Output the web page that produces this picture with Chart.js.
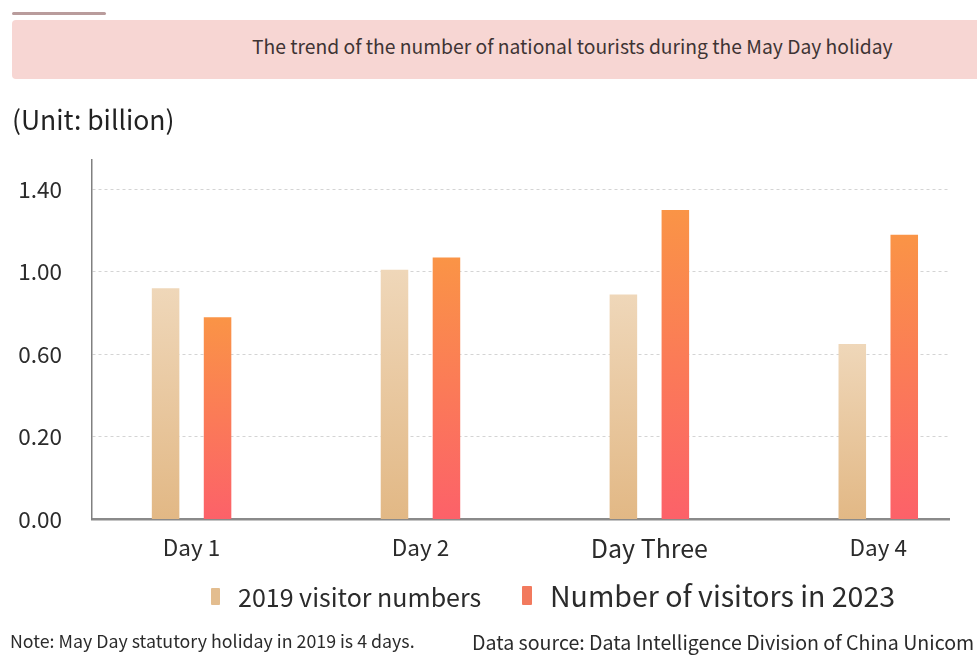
<!DOCTYPE html>
<html lang="en">
<head>
    <meta charset="UTF-8">
    <title>May Day tourists</title>
    <script src="https://cdn.jsdelivr.net/npm/chart.js@4/dist/chart.umd.min.js"></script>
    <style>
        body {
            margin: 0;
            background: #ffffff;
            font-family: 'Noto Sans CJK SC', sans-serif;
            color: #2b2b2b;
        }
        .page {
            position: relative;
            width: 977px;
            height: 662px;
            overflow: hidden;
        }
        .page canvas {
            position: absolute;
            left: 0;
            top: 0;
        }
        .abs {
            position: absolute;
            line-height: 1;
            white-space: nowrap;
        }
        .topline {
            left: 12px; top: 12px; width: 94px; height: 3px;
            background: #b99c9c; border-radius: 2px;
        }
        .banner {
            left: 12px; top: 20px; width: 975px; height: 59px;
            background: #f7d6d3; border-radius: 4px;
        }
        .title { left: 252px; top: 37px; font-size: 19.3px; color: #3e3434; }
        .unit { left: 12px; top: 106px; font-size: 26.5px; color: #222; }
        .legend-item { display: flex; align-items: center; }
        .swatch { display: inline-block; border-radius: 1px; }
        .note { top: 632px; color: #2b2b2b; }
    </style>
</head>
<body>
<div class="page">
    <canvas id="chart"></canvas>
    <div class="abs topline"></div>
    <div class="abs banner"></div>
    <div class="abs title">The trend of the number of national tourists during the May Day holiday</div>
    <div class="abs unit">(Unit: billion)</div>
    <div id="legend"></div>
    <div class="abs note" style="left: 10px; font-size: 17.8px;">Note: May Day statutory holiday in 2019 is 4 days.</div>
    <div class="abs note" style="left: 472px; font-size: 19.6px;">Data source: Data Intelligence Division of China Unicom</div>
</div>
<script>
    // data
    const days = ["Day 1", "Day 2", "Day Three", "Day 4"];
    const visitors2019 = [0.92, 1.01, 0.89, 0.65];
    const visitors2023 = [0.78, 1.07, 1.30, 1.18];
    const seriesNames = ["2019 visitor numbers", "Number of visitors in 2023"];
    const yTicks = [-0.2, 0.2, 0.6, 1.0, 1.4];

    // bar colours, top -> bottom
    const fill2019 = ["#efd7b9", "#e2b885"];
    const fill2023 = ["#fa9446", "#fc6169"];

    function barGradient(stops) {
        return (ctx) => {
            const chart = ctx.chart;
            const area = chart.chartArea;
            if (!area || !ctx.parsed) return stops[1];
            const top = chart.scales.y.getPixelForValue(ctx.parsed.y);
            const g = chart.ctx.createLinearGradient(0, top, 0, area.bottom);
            g.addColorStop(0, stops[0]);
            g.addColorStop(1, stops[1]);
            return g;
        };
    }

    const toPoints = (vals) => vals.map((v, i) => ({ x: i, y: v }));

    new Chart(document.getElementById("chart"), {
        type: "bar",
        data: {
            datasets: [
                {
                    label: seriesNames[0],
                    data: toPoints(visitors2019),
                    base: -0.2,
                    backgroundColor: barGradient(fill2019),
                    borderWidth: 0
                },
                {
                    label: seriesNames[1],
                    data: toPoints(visitors2023),
                    base: -0.2,
                    backgroundColor: barGradient(fill2023),
                    borderWidth: 0
                }
            ]
        },
        options: {
            responsive: true,
            maintainAspectRatio: false,
            animation: false,
            categoryPercentage: 0.454,
            barPercentage: 0.53,
            layout: { padding: { left: 0, right: 28, top: 160, bottom: 0 } },
            plugins: {
                legend: { display: false },
                tooltip: { enabled: false }
            },
            scales: {
                x: {
                    type: "linear",
                    offset: false,
                    min: -0.435,
                    max: 3.309,
                    afterFit: (s) => { s.height = 142.5; },
                    afterBuildTicks: (s) => { s.ticks = days.map((d, i) => ({ value: i })); },
                    grid: { display: false, offset: false },
                    border: { display: true, color: "#8a8a8a", width: 2.5 },
                    ticks: {
                        padding: 6,
                        color: "#2b2b2b",
                        font: (c) => ({
                            family: "'Noto Sans CJK SC', sans-serif",
                            size: c.tick && c.tick.value === 2 ? 25 : 22.5
                        }),
                        callback: (v) => days[v]
                    }
                },
                y: {
                    min: -0.2,
                    max: 1.542,
                    afterFit: (s) => { s.width = 92; },
                    afterBuildTicks: (s) => { s.ticks = yTicks.map((v) => ({ value: v })); },
                    grid: {
                        drawTicks: false,
                        color: (c) => (c.tick && c.tick.value < 0 ? "rgba(0,0,0,0)" : "#d4d4d4"),
                        lineWidth: 1
                    },
                    border: { display: true, color: "#808080", width: 1.5, dash: [3, 3] },
                    ticks: {
                        padding: 30,
                        color: "#2b2b2b",
                        font: { family: "'Noto Sans CJK SC', sans-serif", size: 22.5 },
                        callback: (v) => Math.max(0, v).toFixed(2)
                    }
                }
            }
        }
    });

    // legend swatches and names
    const legendSpec = [
        { left: 211, top: 584, w: 9, h: 17, color: "#e3bd8f", size: 25, gap: 18 },
        { left: 522, top: 581, w: 10, h: 19, color: "#f27a5e", size: 28.5, gap: 18 }
    ];
    const legend = document.getElementById("legend");
    seriesNames.forEach((name, i) => {
        const s = legendSpec[i];
        const item = document.createElement("div");
        item.className = "abs legend-item";
        item.style.left = s.left + "px";
        item.style.top = s.top + "px";
        item.style.fontSize = s.size + "px";
        const sw = document.createElement("span");
        sw.className = "swatch";
        sw.style.width = s.w + "px";
        sw.style.height = s.h + "px";
        sw.style.background = s.color;
        sw.style.marginRight = s.gap + "px";
        const txt = document.createElement("span");
        txt.textContent = name;
        item.appendChild(sw);
        item.appendChild(txt);
        legend.appendChild(item);
    });
</script>
</body>
</html>
